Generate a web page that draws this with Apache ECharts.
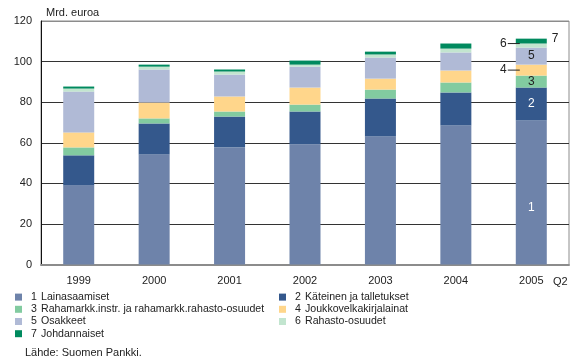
<!DOCTYPE html>
<html>
<head>
<meta charset="utf-8">
<script src="https://cdn.jsdelivr.net/npm/echarts@6/dist/echarts.min.js"></script>
<style>
  html, body { margin: 0; padding: 0; background: #fff; }
  #chart { width: 572px; height: 360px; }
</style>
</head>
<body>
<div id="chart"></div>
<script>
// Kotitalouksien rahoitusvarat, mrd. euroa
const years = ['1999', '2000', '2001', '2002', '2003', '2004', '2005'];
const yTicks = [0, 20, 40, 60, 80, 100, 120];

const lainasaamiset = [39.0, 54.2, 57.7, 59.2, 63.1, 68.5, 71.0];
const kateinen      = [14.8, 15.3, 15.2, 16.2, 18.7, 16.3, 16.2];
const rahamarkk     = [3.9, 2.5, 2.5, 3.4, 4.4, 4.9, 5.9];
const joukkovelka   = [7.4, 7.8, 7.4, 8.4, 5.4, 5.9, 5.4];
const osakkeet      = [20.1, 16.3, 10.8, 10.3, 10.4, 8.9, 8.4];
const rahasto       = [1.5, 1.4, 1.5, 1.0, 1.5, 1.9, 2.0];
const johdannaiset  = [1.0, 1.0, 1.0, 2.0, 1.4, 2.5, 2.4];

const seriesNames = [
  'Lainasaamiset',
  'Käteinen ja talletukset',
  'Rahamarkk.instr. ja rahamarkk.rahasto-osuudet',
  'Joukkovelkakirjalainat',
  'Osakkeet',
  'Rahasto-osuudet',
  'Johdannaiset'
];
const seriesData = [lainasaamiset, kateinen, rahamarkk, joukkovelka, osakkeet, rahasto, johdannaiset];
const colors = ['#6e83aa', '#34588c', '#82cba0', '#ffd68b', '#b0bad6', '#c2e5cf', '#008a5e'];

const FONT = 'Liberation Sans, Arial, sans-serif';
const last = years.length - 1;

// Number labels on the last bar only
const numberLabels = [
  { position: 'inside', color: '#fff', offset: [0, 15] },
  { position: 'inside', color: '#fff' },
  { position: 'inside', color: '#222' },
  { position: 'left', color: '#222', leader: true, distance: 0, offset: [4, 0] },
  { position: 'inside', color: '#222' },
  { position: 'left', color: '#222', leader: true, distance: 0, offset: [4, -2] },
  { position: 'right', color: '#222', distance: 5, offset: [0, -2] }
];

const series = seriesData.map((vals, i) => {
  const lab = numberLabels[i];
  const num = String(i + 1);
  return {
    name: seriesNames[i],
    type: 'bar',
    stack: 'total',
    barWidth: 31,
    itemStyle: { color: colors[i] },
    emphasis: { disabled: true },
    data: vals.map((v, j) => {
      if (j !== last) return v;
      return {
        value: v,
        label: {
          show: true,
          position: lab.position,
          distance: lab.distance !== undefined ? lab.distance : 5,
          offset: lab.offset || [0, 0],
          color: lab.color,
          fontFamily: FONT,
          fontSize: 12,
          formatter: lab.leader ? '{n|' + num + '}{l|}' : num,
          rich: {
            n: { color: lab.color, fontFamily: FONT, fontSize: 12, padding: [0, 1, 0, 0] },
            l: { width: 12, height: 1, backgroundColor: '#222' }
          }
        }
      };
    })
  };
});

const legendRich = {
  n: { fontFamily: FONT, fontSize: 10.6, color: '#222', width: 10, padding: [0, 0, 0, 4] },
  t: { fontFamily: FONT, fontSize: 10.6, color: '#222' }
};
const legendFormatter = name => '{n|' + (seriesNames.indexOf(name) + 1) + '}{t|' + name + '}';
const legendCommon = {
  orient: 'vertical',
  top: 286,
  itemWidth: 7,
  itemHeight: 7,
  itemGap: 0,
  icon: 'rect',
  selectedMode: false,
  formatter: legendFormatter,
  textStyle: { fontFamily: FONT, fontSize: 10.6, lineHeight: 12.2, color: '#222', rich: legendRich }
};

const chart = echarts.init(document.getElementById('chart'), null, { renderer: 'canvas' });
chart.setOption({
  animation: false,
  backgroundColor: '#fff',
  textStyle: { fontFamily: FONT },
  title: [
    { text: 'Mrd. euroa', left: 41, top: 2, textStyle: { fontFamily: FONT, fontSize: 11, fontWeight: 'normal', color: '#222' } },
    { text: 'Lähde: Suomen Pankki.', left: 20, top: 342, textStyle: { fontFamily: FONT, fontSize: 11, fontWeight: 'normal', color: '#222' } }
  ],
  legend: [
    Object.assign({}, legendCommon, { left: 10, data: [seriesNames[0], seriesNames[2], seriesNames[4], seriesNames[6]] }),
    Object.assign({}, legendCommon, { left: 274, data: [seriesNames[1], seriesNames[3], seriesNames[5]] })
  ],
  grid: {
    left: 41, right: 3, top: 21, bottom: 95.5,
    show: true, borderColor: '#8c8c8c', borderWidth: 1, backgroundColor: 'transparent'
  },
  xAxis: {
    type: 'category',
    data: years,
    axisLine: { lineStyle: { color: '#8c8c8c', width: 2 } },
    axisTick: { show: false },
    axisLabel: { fontFamily: FONT, fontSize: 11, color: '#222', margin: 11 }
  },
  yAxis: {
    type: 'value',
    min: yTicks[0],
    max: yTicks[yTicks.length - 1],
    interval: yTicks[1] - yTicks[0],
    axisLine: { show: true, lineStyle: { color: '#111', width: 1 } },
    axisTick: { show: false },
    axisLabel: { fontFamily: FONT, fontSize: 11, color: '#222', margin: 9 },
    splitLine: { lineStyle: { color: ['#8c8c8c', '#333', '#333', '#333', '#333', '#333', '#8c8c8c'], width: 1 } }
  },
  graphic: [
    { type: 'text', left: 553, top: 276, style: { text: 'Q2', fontFamily: FONT, fontSize: 11, fill: '#222' } }
  ],
  series: series
});
</script>
</body>
</html>
